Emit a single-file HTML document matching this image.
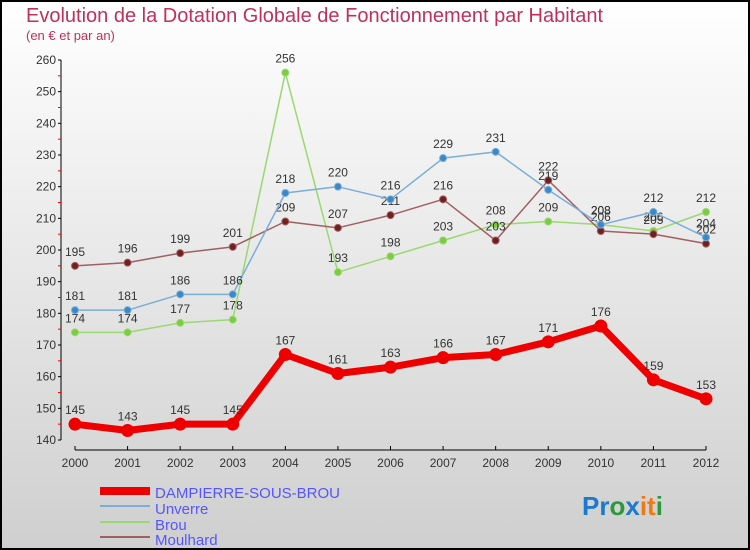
<!DOCTYPE html>
<html><head><meta charset="utf-8"><style>
body{margin:0}
svg{display:block;font-family:"Liberation Sans",sans-serif}
</style></head><body>
<svg id="c" width="750" height="550" viewBox="0 0 750 550">
<defs><linearGradient id="bg" x1="0" y1="0" x2="0" y2="1"><stop offset="0" stop-color="#ffffff"/><stop offset="1" stop-color="#cfcfcf"/></linearGradient></defs>
<rect x="1" y="1" width="748" height="548" fill="url(#bg)" stroke="#000" stroke-width="2"/>
<text x="26" y="22" font-size="20" fill="#c0305a">Evolution de la Dotation Globale de Fonctionnement par Habitant</text>
<text x="26" y="40" font-size="13" fill="#c0305a">(en € et par an)</text>
<g id="axes"></g>
<g id="series"></g>
<g>
<rect x="100" y="487" width="50" height="8" fill="#e00"/>
<text x="155" y="498" font-size="15" fill="#55f">DAMPIERRE-SOUS-BROU</text>
<line x1="100" y1="506" x2="150" y2="506" stroke="#7aaed8" stroke-width="2"/>
<text x="155" y="514" font-size="15" fill="#55f">Unverre</text>
<line x1="100" y1="522" x2="150" y2="522" stroke="#9ad870" stroke-width="2"/>
<text x="155" y="530" font-size="15" fill="#55f">Brou</text>
<line x1="100" y1="537" x2="150" y2="537" stroke="#a06060" stroke-width="2"/>
<text x="155" y="545" font-size="15" fill="#55f">Moulhard</text>
</g>
<text x="582" y="515" font-size="26" font-weight="bold"><tspan fill="#1a7ad0">Pr</tspan><tspan fill="#2a9a3a">o</tspan><tspan fill="#1a7ad0">x</tspan><tspan fill="#f07a10">it</tspan><tspan fill="#2a9a3a">i</tspan></text>
</svg>
<script>
const years=[2000,2001,2002,2003,2004,2005,2006,2007,2008,2009,2010,2011,2012];
const dampierre=[145,143,145,145,167,161,163,166,167,171,176,159,153];
const unverre=[181,181,186,186,218,220,216,229,231,219,208,212,204];
const brou=[174,174,177,178,256,193,198,203,208,209,208,206,212];
const moulhard=[195,196,199,201,209,207,211,216,203,222,206,205,202];
const yTicks=[140,150,160,170,180,190,200,210,220,230,240,250,260];
const NS="http://www.w3.org/2000/svg";
const xs=i=>75+i*(706-75)/(years.length-1);
const ys=v=>440-(v-140)*380/120;
function mk(t,a,p){const e=document.createElementNS(NS,t);for(const k in a)e.setAttribute(k,a[k]);p.appendChild(e);return e;}
const ax=document.getElementById('axes');
let l=mk('line',{x1:61,y1:60,x2:61,y2:440,stroke:'#000'},ax);


yTicks.forEach(v=>{mk('line',{x1:58,y1:ys(v),x2:61,y2:ys(v),stroke:'#000'},ax);
 if(v<260)mk('line',{x1:58,y1:ys(v+5),x2:61,y2:ys(v+5),stroke:'#f00'},ax);
 const t=mk('text',{x:56,y:ys(v)+4,'font-size':12,'text-anchor':'end',fill:'#333'},ax);t.textContent=v;
 
 });
l=mk('line',{x1:75,y1:450,x2:706,y2:450,stroke:'#000'},ax);


years.forEach((y,i)=>{mk('line',{x1:xs(i),y1:446,x2:xs(i),y2:450,stroke:'#000'},ax);
 const t=mk('text',{x:xs(i),y:467,'font-size':12,'text-anchor':'middle',fill:'#333'},ax);t.textContent=y;
 
 });
const sg=document.getElementById('series');
function draw(data,name,color,w,r,fill){
 const g=mk('g',{},sg);
 
 
 const p=mk('polyline',{points:data.map((v,i)=>xs(i)+','+ys(v)).join(' '),fill:'none',stroke:color,'stroke-width':w,'stroke-linejoin':'round'},g);
 
 
 data.forEach((v,i)=>{const c=mk('circle',{cx:xs(i),cy:ys(v),r:r,fill:fill,stroke:color,'stroke-width':1},g);
  
  
  const t=mk('text',{x:xs(i),y:ys(v)-10,'font-size':12,'text-anchor':'middle',fill:'#333'},g);t.textContent=v;
  
  });
}
draw(brou,'brou','#9ad870',1.5,3.5,'#7acc40');
draw(moulhard,'moulhard','#a06060',1.5,3.5,'#702020');
draw(unverre,'unverre','#7aaed8',1.5,3.5,'#3a88c8');
draw(dampierre,'dampierre','#e00',7,6,'#e00');
</script>
</body></html>
